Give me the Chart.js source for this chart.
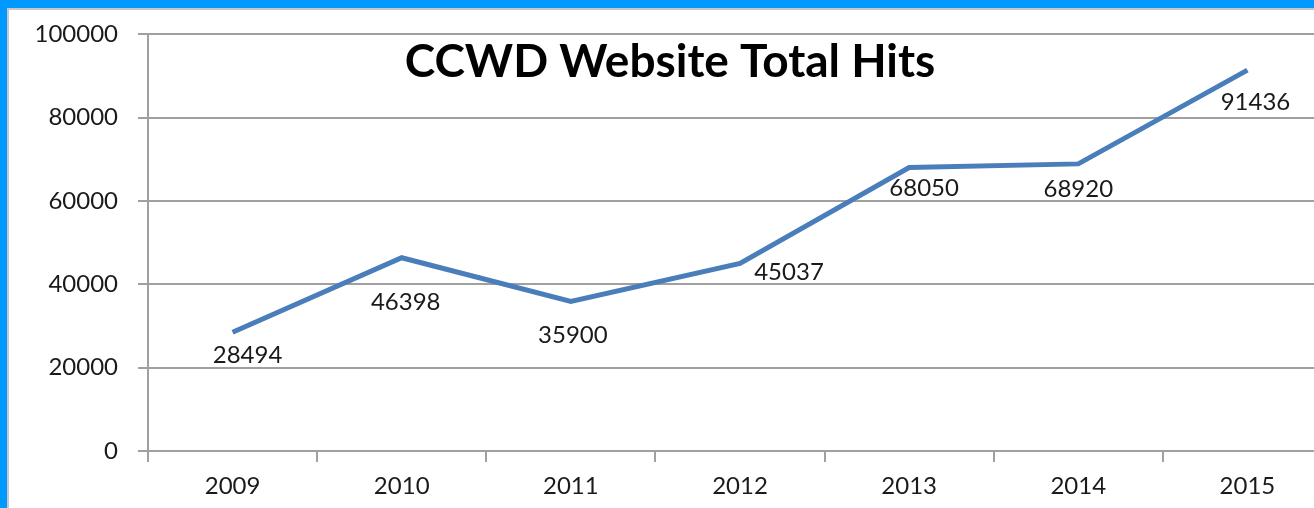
<!DOCTYPE html>
<html lang="en">
<head>
    <meta charset="UTF-8">
    <title>CCWD Website Total Hits</title>
    <script src="https://cdn.jsdelivr.net/npm/chart.js@4.4.4/dist/chart.umd.min.js"></script>
    <style>
        html, body {
            margin: 0;
            padding: 0;
            width: 1314px;
            height: 508px;
            overflow: hidden;
            background-color: white;
        }
        #chart-box {
            position: absolute;
            left: 0;
            top: 0;
            width: 1332px;
            height: 508px;
        }
        .frame-top {
            position: absolute;
            left: 0; top: 0;
            width: 1314px; height: 8px;
            background-color: #0099ff;
        }
        .frame-left {
            position: absolute;
            left: 0; top: 0;
            width: 7px; height: 508px;
            background-color: #0099ff;
        }
        .edge-top {
            position: absolute;
            left: 7px; top: 8px;
            width: 1307px; height: 2px;
            background-color: #c8c8c8;
        }
        .edge-left {
            position: absolute;
            left: 7px; top: 8px;
            width: 2px; height: 500px;
            background-color: #c8c8c8;
        }
    </style>
</head>
<body>
    <div id="chart-box">
        <canvas id="hits-chart" width="1332" height="508"></canvas>
    </div>
    <div class="frame-top"></div>
    <div class="frame-left"></div>
    <div class="edge-top"></div>
    <div class="edge-left"></div>

    <script>
        // chart data
        const years = ['2009', '2010', '2011', '2012', '2013', '2014', '2015'];
        const totalHits = [28494, 46398, 35900, 45037, 68050, 68920, 91436];
        const yMin = 0;
        const yMax = 100000;
        const yStep = 20000;
        const chartTitle = 'CCWD Website Total Hits';

        // data label nudges (px), the labels were dragged by hand in the original
        const labelDx = [15, 4, 2, 49, 15, 0, 8];
        const labelDy = [23, 45, 34, 9, 21, 25, 32];

        const gridGrey = '#a0a0a0';
        const textFont = 'Lato, "Open Sans", sans-serif';

        // title drawn inside the plot area, like the Excel chart
        const titlePlugin = {
            id: 'insideTitle',
            afterDraw(chart) {
                const ctx = chart.ctx;
                ctx.save();
                ctx.font = 'bold 46px ' + textFont;
                ctx.fillStyle = '#000';
                ctx.textAlign = 'center';
                ctx.textBaseline = 'middle';
                ctx.fillText(chartTitle, 670, 62);
                ctx.restore();
            }
        };

        const valueLabels = {
            id: 'valueLabels',
            afterDatasetsDraw(chart) {
                const ctx = chart.ctx;
                const meta = chart.getDatasetMeta(0);
                ctx.save();
                ctx.font = '24px ' + textFont;
                ctx.fillStyle = '#1a1a1a';
                ctx.textAlign = 'center';
                ctx.textBaseline = 'middle';
                meta.data.forEach((pt, i) => {
                    ctx.fillText(String(totalHits[i]), pt.x + labelDx[i], pt.y + labelDy[i]);
                });
                ctx.restore();
            }
        };

        const ctx = document.getElementById('hits-chart').getContext('2d');
        new Chart(ctx, {
            type: 'line',
            data: {
                labels: years,
                datasets: [{
                    label: 'Total Hits',
                    data: totalHits,
                    borderColor: '#4a7ebb',
                    borderWidth: 5,
                    tension: 0,
                    pointRadius: 0,
                    fill: false
                }]
            },
            options: {
                responsive: false,
                animation: false,
                layout: { padding: { top: 32, right: 0, bottom: 0, left: 0 } },
                plugins: {
                    legend: { display: false },
                    tooltip: { enabled: false }
                },
                scales: {
                    x: {
                        offset: true,
                        grid: {
                            offset: true,
                            drawOnChartArea: false,
                            drawTicks: true,
                            tickLength: 11,
                            color: gridGrey,
                            lineWidth: 2
                        },
                        border: { color: gridGrey, width: 2 },
                        ticks: {
                            color: '#1a1a1a',
                            font: { family: textFont, size: 24 },
                            padding: 10,
                            maxRotation: 0
                        },
                        afterFit(scale) { scale.height = 57; }
                    },
                    y: {
                        min: yMin,
                        max: yMax,
                        grid: {
                            color: gridGrey,
                            lineWidth: 2,
                            tickLength: 10
                        },
                        border: { color: gridGrey, width: 2 },
                        ticks: {
                            stepSize: yStep,
                            color: '#1a1a1a',
                            font: { family: textFont, size: 24 },
                            padding: 20,
                            callback: value => String(value)
                        },
                        afterFit(scale) { scale.width = 148; }
                    }
                }
            },
            plugins: [titlePlugin, valueLabels]
        });
    </script>
</body>
</html>
